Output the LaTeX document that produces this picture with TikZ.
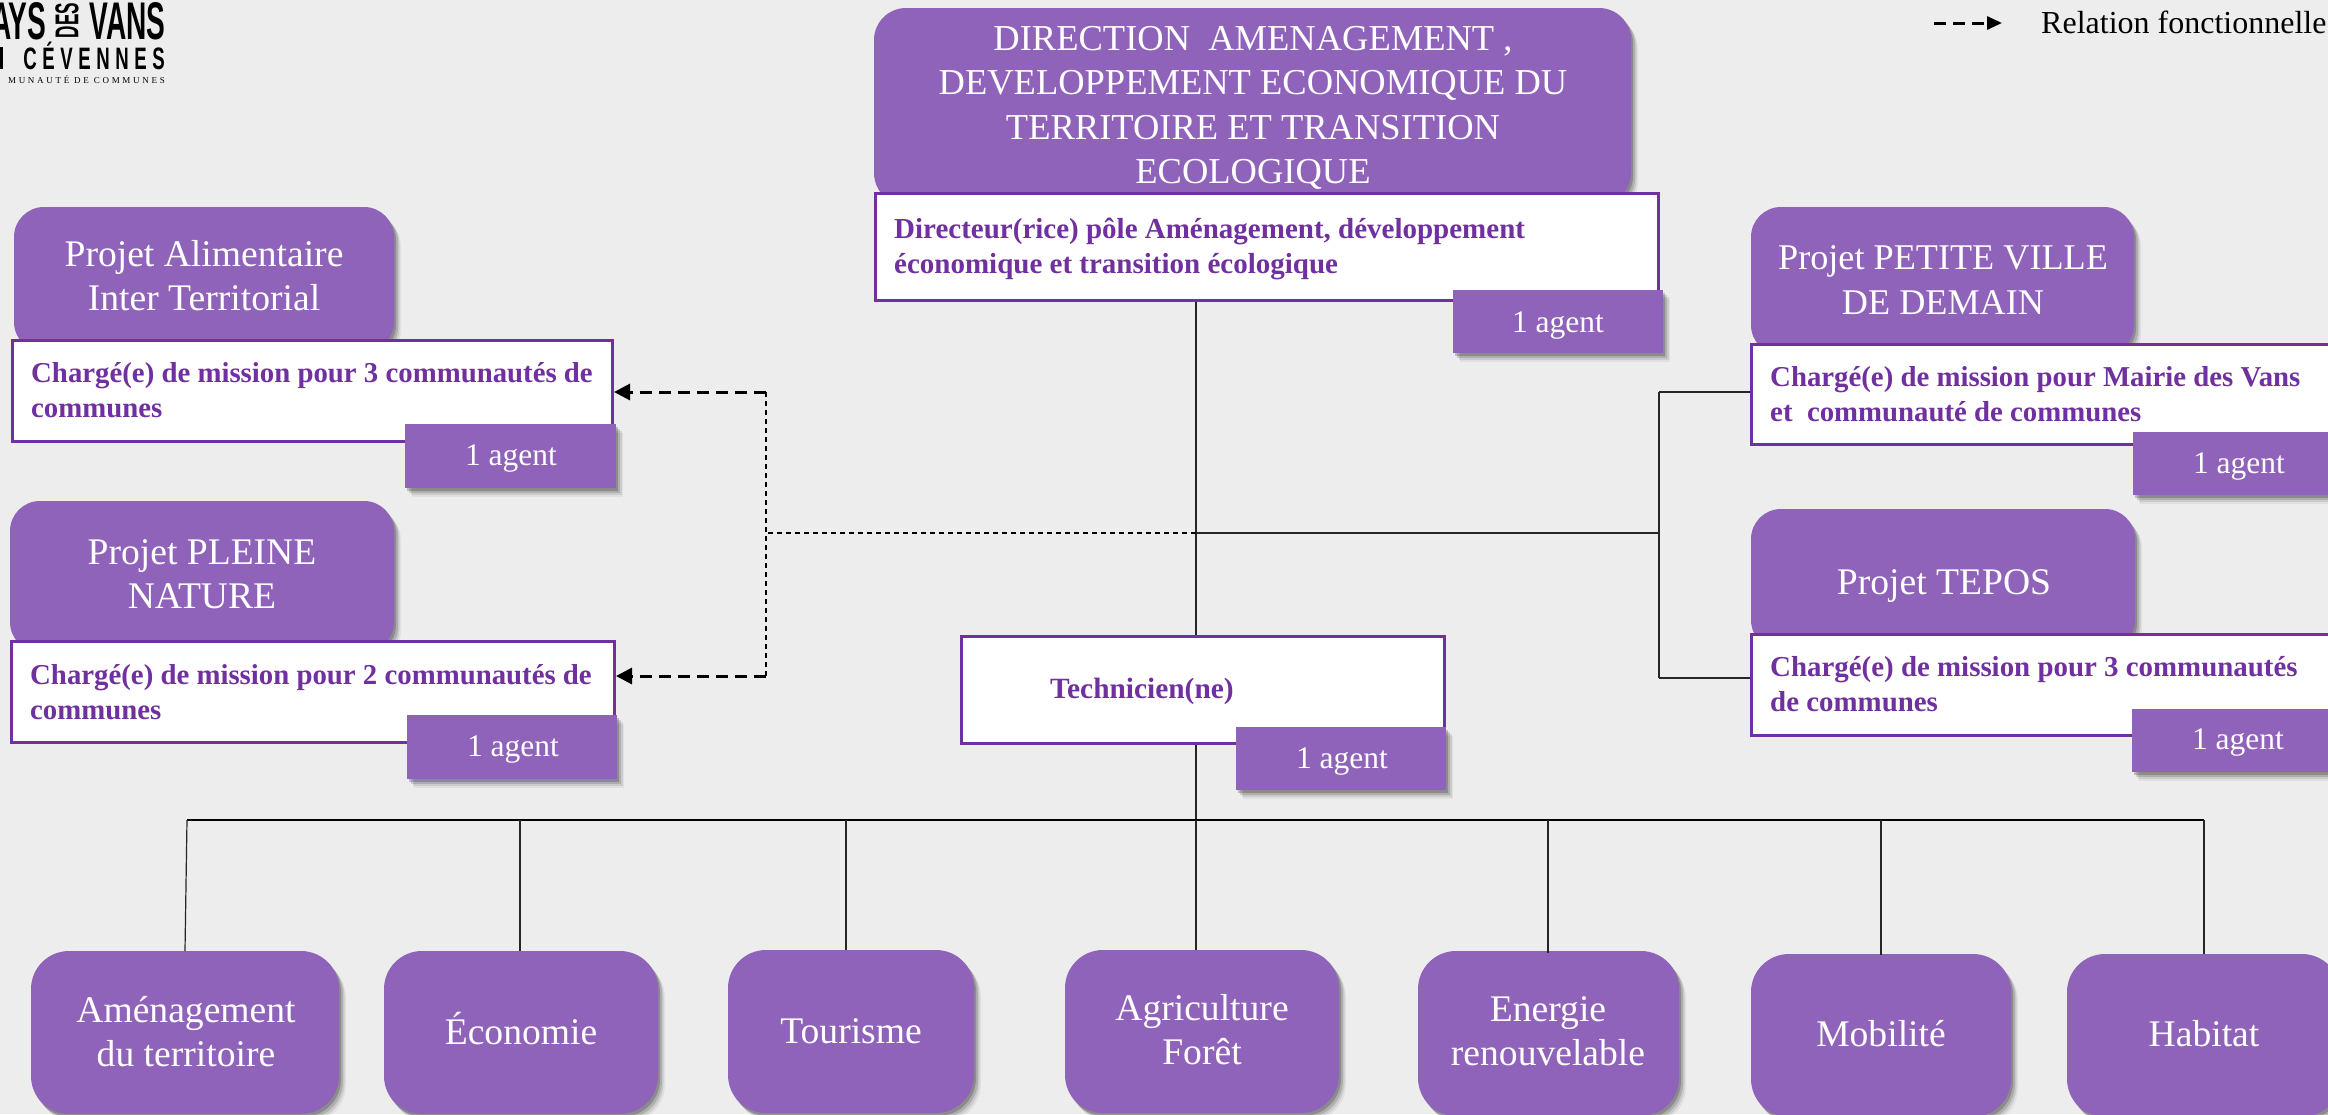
\documentclass[tikz,border=0pt]{standalone}
\usepackage{fontspec}
\setmainfont{Liberation Serif}
\newfontfamily\logofont{Liberation Sans}
\usetikzlibrary{arrows.meta,shadows}
\definecolor{pgbg}{HTML}{EDEDED}
\definecolor{pfill}{HTML}{8F63B9}
\definecolor{pline}{HTML}{7030A0}
\tikzset{
  softshadow/.style={
    drop shadow={shadow xshift=7pt,shadow yshift=-9pt,opacity=.05,fill=black},
    drop shadow={shadow xshift=5.5pt,shadow yshift=-7pt,opacity=.09,fill=black},
    drop shadow={shadow xshift=4pt,shadow yshift=-5pt,opacity=.14,fill=black},
    drop shadow={shadow xshift=2pt,shadow yshift=-3pt,opacity=.20,fill=black}},
  roundbox/.style={softshadow,fill=pfill,rounded corners=#1,inner sep=0pt},
  roundbox/.default=32pt,
  agentbox/.style={softshadow,fill=pfill,inner sep=0pt},
  posteBox/.style={draw=pline,line width=3pt,fill=white,inner sep=0pt},
  whitetxt/.style={text=white,inner sep=0pt,anchor=north,align=center},
  agenttxt/.style={text=white,inner sep=0pt,anchor=base,font=\fontsize{31.5}{36}\selectfont},
  purpletxt/.style={text=pline,inner sep=0pt,anchor=north west,align=left,
    font=\fontsize{28.8}{35}\selectfont\bfseries},
  conn/.style={line width=1.2pt,black!85},
  dashthin/.style={line width=1.2pt,black,dash pattern=on 5pt off 4pt},
  dashthick/.style={line width=3pt,black,dash pattern=on 12pt off 7pt},
  tipA/.style={-{Triangle[length=16pt,width=16pt]}}
}
% box with corners (x1,y1)-(x2,y2) in reference pixels
\newcommand\boxN[6]{\node[#1,minimum width={(#5-#3)*1pt},minimum height={(#6-#4)*1pt}] (#2) at ({(#3+#5)/2},{(#4+#6)/2}) {};}
% white centred text: font size, name, x, first baseline y, baselineskip 44.5
\newcommand\wtN[5][37.6]{\node[whitetxt,font=\fontsize{#1}{44.5}\selectfont] (#2) at (#3,{#4-31.15}) {\strut #5};}
% purple bold text: left x, first baseline y
\newcommand\ptN[5][28.8]{\node[purpletxt,font=\fontsize{#1}{35}\selectfont\bfseries] (#2) at (#3,{#4-24.5}) {\strut #5};}
\begin{document}
\begin{tikzpicture}[x=1pt,y=-1pt]
\useasboundingbox (0,0) rectangle (2328,1114);
\fill[pgbg] (0,0) rectangle (2328,1114);

% connector junctions
\coordinate (jc) at (1196,533);
\coordinate (jr) at (1659,533);
\coordinate (jl) at (766,533);
\coordinate (jb) at (1196,820);
\coordinate (barL) at (187,820);
\coordinate (barR) at (2204,820);
\coordinate (rTop) at (1659,392);
\coordinate (rBot) at (1659,678);
\coordinate (lTop) at (766,392);
\coordinate (lBot) at (766,676);

% header boxes
\boxN{roundbox}{dirh}{874}{8}{1631}{205}
\boxN{roundbox=30pt}{pah}{14}{207}{394}{352}
\boxN{roundbox=30pt}{plh}{10}{501}{394}{652}
\boxN{roundbox=30pt}{pvdh}{1751}{207}{2134}{355}
\boxN{roundbox=30pt}{teph}{1751}{509}{2135}{650}

% post boxes
\boxN{posteBox}{dirw}{875.5}{193.5}{1658.5}{300.5}
\boxN{posteBox}{pvdw}{1751.5}{344.5}{2345}{444.5}
\boxN{posteBox}{tepw}{1751.5}{634.5}{2345}{735.5}
\boxN{posteBox}{paw}{12.5}{340.5}{612.5}{441.5}
\boxN{posteBox}{plw}{11.5}{641.5}{614.5}{742.5}
\boxN{posteBox}{tecw}{961.5}{636.5}{1444.5}{743.5}

% bottom boxes
\boxN{roundbox=38pt}{b1}{31}{951}{339}{1114}
\boxN{roundbox=38pt}{b2}{384}{951}{658}{1114}
\boxN{roundbox=38pt}{b3}{728}{950}{974}{1113}
\boxN{roundbox=38pt}{b4}{1065}{950}{1339}{1113}
\boxN{roundbox=38pt}{b5}{1418}{951}{1679}{1116}
\boxN{roundbox=38pt}{b6}{1751}{954}{2011}{1117}
\boxN{roundbox=38pt}{b7}{2067}{954}{2340}{1117}

% connectors
\draw[conn] (dirw.south -| jc) -- (tecw.north -| jc);
\draw[conn] (tecw.south -| jc) -- (jb);
\draw[conn] (jc) -- (jr);
\draw[conn] (rTop) -- (rBot);
\draw[conn] (rTop) -- (pvdw.west |- rTop);
\draw[conn] (rBot) -- (tepw.west |- rBot);
\draw[dashthin] (jc) -- (jl);
\draw[dashthin] (lTop) -- (lBot);
\draw[dashthick,tipA] (lTop) -- (paw.east |- lTop);
\draw[dashthick,tipA] (lBot) -- (plw.east |- lBot);
\draw[line width=1.8pt,black] (barL) -- (barR);
\draw[conn] (barL) -- (185,951);
\draw[conn] (520,820) -- (520,951);
\draw[conn] (846,820) -- (846,950);
\draw[conn] (jb) -- (1196,950);
\draw[conn] (1548,820) -- (1548,953);
\draw[conn] (1881,820) -- (1881,955);
\draw[conn] (barR) -- (2204,954);

% agent boxes
\boxN{agentbox}{ag1}{1453}{290}{1663}{353}
\boxN{agentbox}{ag2}{405}{424}{616}{488}
\boxN{agentbox}{ag3}{407}{715}{617}{779}
\boxN{agentbox}{ag4}{2133}{432}{2345}{495}
\boxN{agentbox}{ag5}{2132}{709}{2345}{772}
\boxN{agentbox}{ag6}{1236}{727}{1446}{790}

% header texts
\wtN[36.5]{t0}{1253}{50}{DIRECTION\ \ AMENAGEMENT ,\\DEVELOPPEMENT ECONOMIQUE DU\\TERRITOIRE ET TRANSITION\\ECOLOGIQUE}
\wtN{t1}{204}{266}{Projet Alimentaire\\Inter Territorial}
\wtN{t2}{202}{564}{Projet PLEINE\\NATURE}
\wtN[36.2]{t3}{1943}{269}{Projet PETITE VILLE\\[1pt]DE DEMAIN}
\wtN{t4}{1944}{594}{Projet TEPOS}

% post texts
\ptN[29]{p0}{894}{238}{Directeur(rice) pôle Aménagement, développement\\économique et transition écologique}
\ptN{p1}{31}{382}{Chargé(e) de mission pour 3 communautés de\\communes}
\ptN{p2}{30}{684}{Chargé(e) de mission pour 2 communautés de\\communes}
\ptN{p3}{1770}{386}{Chargé(e) de mission pour Mairie des Vans\\et\ \ communauté de communes}
\ptN[28.9]{p4}{1770}{676}{Chargé(e) de mission pour 3 communautés\\de communes}
\ptN[29.4]{p5}{1050}{698}{Technicien(ne)}

% agent texts
\node[agenttxt] (a1) at (1558,332) {1 agent};
\node[agenttxt] (a2) at (511,465) {1 agent};
\node[agenttxt] (a3) at (513,756) {1 agent};
\node[agenttxt] (a4) at (2239,473) {1 agent};
\node[agenttxt] (a5) at (2238,749) {1 agent};
\node[agenttxt] (a6) at (1342,768) {1 agent};

% bottom texts
\wtN{s1}{186}{1022}{Aménagement\\du territoire}
\wtN{s2}{521}{1043}{Économie}
\wtN{s3}{851}{1043}{Tourisme}
\wtN{s4}{1202}{1020}{Agriculture\\Forêt}
\wtN{s5}{1548}{1021}{Energie\\renouvelable}
\wtN{s6}{1881}{1046}{Mobilité}
\wtN{s7}{2204}{1046}{Habitat}

% legend
\coordinate (legA) at (1934,23);
\coordinate (legB) at (2002,23);
\draw[dashthick,-{Triangle[length=15pt,width=13pt]}] (legA) -- (legB);
\node[inner sep=0pt,anchor=base west,font=\fontsize{32}{38}\selectfont] (leg) at (2041,33) {Relation fonctionnelle};

% logo
\node[inner sep=0pt,anchor=base east] (lg1) at (46.5,39) {\scalebox{.53}[1]{\logofont\bfseries\fontsize{53}{53}\selectfont AYS}};
\node[inner sep=0pt,anchor=base east] (lg2) at (165.5,39) {\scalebox{.53}[1]{\logofont\bfseries\fontsize{53}{53}\selectfont VANS}};
\node[inner sep=0pt,rotate=90] (lg3) at (67,20.5) {\scalebox{.52}[1]{\logofont\bfseries\fontsize{33}{33}\selectfont DES}};
\fill[black] (0,47) rectangle (2.5,69);
\node[inner sep=0pt,anchor=base east] (lg4) at (165,69) {\scalebox{.6}[1]{\logofont\bfseries\fontsize{31}{31}\selectfont\addfontfeature{LetterSpace=30}CÉVENNES}};
\node[inner sep=0pt,anchor=base east,font=\fontsize{9}{9}\selectfont\addfontfeature{LetterSpace=30}] (lg5) at (165,83) {MUNAUTÉ DE COMMUNES};
\end{tikzpicture}
\end{document}
